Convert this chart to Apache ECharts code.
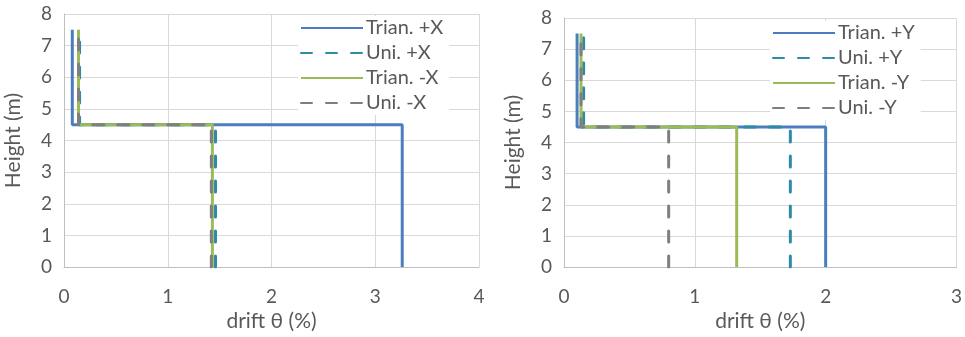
<!DOCTYPE html>
<html><head><meta charset="utf-8">
<script src="https://cdn.jsdelivr.net/npm/echarts@6/dist/echarts.min.js"></script>
<style>html,body{margin:0;padding:0;background:#fff}#c{width:965px;height:337px}</style>
</head><body><div id="c"></div>
<script>
// Data: each profile = drift (%) below the step (0–4.5 m) and above it (4.5–7.5 m)
const heights = [0, 4.5, 4.5, 7.5];
const leftNames = ['Trian. +X', 'Uni. +X', 'Trian. -X', 'Uni. -X'];
const leftBottom = [3.26, 1.46, 1.43, 1.42];
const leftTop = [0.08, 0.15, 0.14, 0.14];
const rightNames = ['Trian. +Y', 'Uni. +Y', 'Trian. -Y', 'Uni. -Y'];
const rightBottom = [2.00, 1.73, 1.32, 0.80];
const rightTop = [0.10, 0.15, 0.13, 0.13];
const leftXTicks = [0, 1, 2, 3, 4];
const rightXTicks = [0, 1, 2, 3];
const yTicks = [0, 1, 2, 3, 4, 5, 6, 7, 8];

const colors = ['#4a7ebf', '#2e8aa5', '#9bbb59', '#7f7f7f'];
const dashed = [false, true, false, true];
const FONT = 'Lato';
const TXT = '#595959';

function profile(b, t) {
  return [[b, heights[0]], [b, heights[1]], [t, heights[2]], [t, heights[3]]];
}
function makeSeries(names, bottoms, tops, idx) {
  return names.map((n, i) => ({
    name: n, type: 'line', xAxisIndex: idx, yAxisIndex: idx,
    data: profile(bottoms[i], tops[i]), symbol: 'none', animation: false,
    lineStyle: { color: colors[i], width: 3, type: dashed[i] ? [11, 14] : 'solid', cap: dashed[i] ? 'round' : 'butt' },
    itemStyle: { color: colors[i] }
  }));
}
function xAxis(idx, ticks) {
  return {
    type: 'value', gridIndex: idx, min: ticks[0], max: ticks[ticks.length - 1], interval: 1,
    name: 'drift θ (%)', nameLocation: 'middle', nameGap: 38,
    nameTextStyle: { color: TXT, fontSize: 21, fontFamily: FONT },
    axisLine: { show: true, lineStyle: { color: '#bfbfbf', width: 1 } },
    axisTick: { show: false },
    axisLabel: { color: TXT, fontSize: 19, fontFamily: FONT, margin: 20 },
    splitLine: { show: true, lineStyle: { color: '#d9d9d9', width: 1 } }
  };
}
function yAxis(idx) {
  return {
    type: 'value', gridIndex: idx, min: yTicks[0], max: yTicks[yTicks.length - 1], interval: 1,
    name: 'Height (m)', nameLocation: 'middle', nameGap: 40,
    nameTextStyle: { color: TXT, fontSize: 21, fontFamily: FONT },
    axisLine: { show: true, lineStyle: { color: '#bfbfbf', width: 1 } },
    axisTick: { show: false },
    axisLabel: { color: TXT, fontSize: 19, fontFamily: FONT, margin: 12 },
    splitLine: { show: true, lineStyle: { color: '#d9d9d9', width: 1 } }
  };
}
function legend(names, left, top) {
  return {
    data: names, orient: 'vertical', left: left, top: top,
    backgroundColor: '#fff', padding: [2, 6, 2, 2],
    itemWidth: 62, itemHeight: 12, itemGap: 5,
    itemStyle: { opacity: 0 },
    textStyle: { color: TXT, fontSize: 20, fontFamily: FONT, lineHeight: 20, padding: [0, 0, 0, -2] },
    selectedMode: false
  };
}

const chart = echarts.init(document.getElementById('c'), null, { renderer: 'canvas' });
chart.setOption({
  animation: false,
  grid: [
    { left: 64, right: 486, top: 14, bottom: 65 },
    { left: 564, right: 8, top: 18, bottom: 64 }
  ],
  xAxis: [xAxis(0, leftXTicks), xAxis(1, rightXTicks)],
  yAxis: [yAxis(0), yAxis(1)],
  legend: [legend(leftNames, 298, 16), legend(rightNames, 770, 21)],
  series: [].concat(makeSeries(leftNames, leftBottom, leftTop, 0), makeSeries(rightNames, rightBottom, rightTop, 1))
});
</script></body></html>
